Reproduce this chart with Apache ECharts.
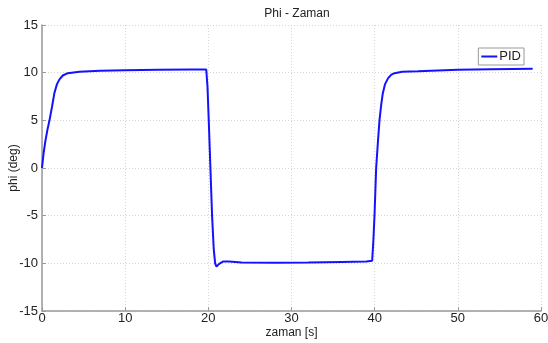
<!DOCTYPE html>
<html>
<head>
<meta charset="utf-8">
<script src="https://cdn.jsdelivr.net/npm/echarts@6/dist/echarts.min.js"></script>
<style>
	html, body { margin: 0; padding: 0; background: #fff; }
	#chart { width: 548px; height: 343px; }
</style>
</head>
<body>
<div id="chart"></div>
<script>
// time [s] and phi [deg]
var zaman = [0, 0.2, 0.4, 0.65, 0.9, 1.2, 1.5, 1.8, 2.1, 2.5, 3.1, 4.5, 7, 10, 14, 18, 19.75,
	19.9, 20.05, 20.25, 20.45, 20.65, 20.82, 20.98, 21.3, 21.75, 22.5, 24, 28, 32, 36, 39.0,
	39.7, 39.85, 39.98, 40.18, 40.38, 40.58, 40.78, 40.98, 41.25, 41.6, 42.0, 42.4, 43.3, 45.2, 50, 54, 59];
var phi = [0, 1.6, 2.8, 4.0, 5.0, 6.4, 7.9, 8.8, 9.3, 9.7, 9.95, 10.1, 10.2, 10.25, 10.3, 10.32, 10.32,
	8.5, 5, 0, -5, -8.5, -10.0, -10.35, -10.05, -9.82, -9.82, -9.9, -9.95, -9.92, -9.85, -9.8,
	-9.72, -7.5, -5, 0, 2.6, 5, 6.6, 7.85, 8.8, 9.4, 9.8, 9.95, 10.1, 10.15, 10.3, 10.35, 10.4];
var xTicks = [0, 60, 10];
var yTicks = [-15, 15, 5];

var pts = [];
for (let i = 0; i < zaman.length; i++) {
	pts.push([zaman[i], phi[i]]);
}

let myChart = echarts.init(document.getElementById('chart'));
let font = 'Liberation Sans, Arial, sans-serif';
let option = {
	animation: false,
	title: {
		text: 'Phi - Zaman',
		left: 292,
		textAlign: 'center',
		top: 3,
		textStyle: { fontSize: 12, fontWeight: 'normal', color: '#222', fontFamily: font }
	},
	grid: { left: 42, right: 7, top: 25, bottom: 32, outerBoundsMode: 'none', containLabel: false },
	legend: {
		data: ['PID'],
		right: 24,
		top: 48,
		backgroundColor: '#fff',
		borderColor: '#999',
		borderWidth: 1,
		borderRadius: 0,
		padding: [2, 3, 2, 3],
		icon: 'rect',
		itemWidth: 16,
		itemHeight: 2,
		itemGap: 2,
		textStyle: { fontSize: 13, color: '#222', fontFamily: font, padding: [0, 0, 0, -3] }
	},
	xAxis: {
		type: 'value',
		min: xTicks[0],
		max: xTicks[1],
		interval: xTicks[2],
		name: 'zaman [s]',
		nameLocation: 'middle',
		nameGap: 16,
		nameMoveOverlap: false,
		nameTextStyle: { fontSize: 12, color: '#222', fontFamily: font },
		axisLine: { onZero: false, lineStyle: { color: '#999', width: 1.5 } },
		axisTick: { inside: true, length: 4, lineStyle: { color: '#999' } },
		axisLabel: { fontSize: 13, color: '#222', fontFamily: font, margin: 1 },
		splitLine: { show: true, lineStyle: { color: '#d6d6d6', type: [1, 2] } }
	},
	yAxis: {
		type: 'value',
		min: yTicks[0],
		max: yTicks[1],
		interval: yTicks[2],
		name: 'phi (deg)',
		nameLocation: 'middle',
		nameGap: 22,
		nameMoveOverlap: false,
		nameTextStyle: { fontSize: 12, color: '#222', fontFamily: font },
		axisLine: { show: true, onZero: false, lineStyle: { color: '#999', width: 1.5 } },
		axisTick: { show: true, inside: true, length: 4, lineStyle: { color: '#999' } },
		axisLabel: { fontSize: 13, color: '#222', fontFamily: font, margin: 4 },
		splitLine: { show: true, lineStyle: { color: '#d6d6d6', type: [1, 2] } }
	},
	series: [{
		name: 'PID',
		type: 'line',
		data: pts,
		symbol: 'none',
		lineStyle: { color: '#1212ff', width: 2 },
		itemStyle: { color: '#1212ff' }
	}]
};
option && myChart.setOption(option);
</script>
</body>
</html>
